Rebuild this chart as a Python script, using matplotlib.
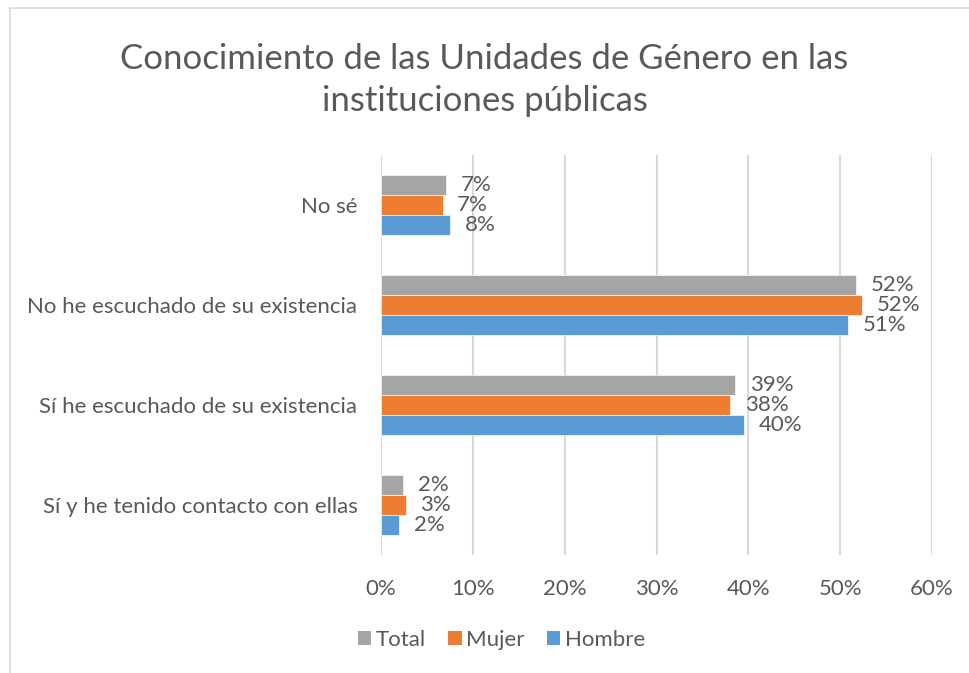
import numpy as np
import matplotlib.pyplot as plt
from matplotlib.lines import Line2D
from matplotlib.patches import Patch

categories = ['No sé', 'No he escuchado de su existencia',
              'Sí he escuchado de su existencia', 'Sí y he tenido contacto con ellas']
total = [7.1, 51.7, 38.6, 2.4]
mujer = [6.7, 52.4, 38.0, 2.7]
hombre = [7.5, 50.9, 39.5, 2.0]
series = ['Total', 'Mujer', 'Hombre']
colors = ['#a5a5a5', '#ed7d31', '#5b9bd5']
xticks = [0, 10, 20, 30, 40, 50, 60]

txt = '#595959'
plt.rcParams['font.family'] = ['Lato', 'DejaVu Sans']

fig = plt.figure(figsize=(9.69, 6.73), dpi=100)
fig.patch.set_facecolor('white')
ax = fig.add_axes([381 / 969, 1 - 555 / 673, (932 - 381) / 969, 400 / 673])

y = np.arange(len(categories))
h = 0.2
for i, (vals, c) in enumerate(zip([total, mujer, hombre], colors)):
    pos = y + (i - 1) * h
    ax.barh(pos, vals, height=h, color=c, edgecolor='#f2f2f2', linewidth=0.6, zorder=3)
    for p, v in zip(pos, vals):
        ax.text(v + 1.6, p, f'{int(v + 0.5)}%', va='center', ha='left',
                fontsize=16, color=txt)

ax.set_xlim(0, 60)
ax.set_ylim(len(categories) - 0.5, -0.5)
ax.set_xticks(xticks)
ax.set_xticklabels([f'{t}%' for t in xticks], fontsize=16, color=txt)
ax.set_yticks(y)
ax.set_yticklabels(categories, fontsize=16, color=txt)
ax.tick_params(length=0)
ax.tick_params(axis='x', pad=17)
ax.tick_params(axis='y', pad=17)
ax.grid(axis='x', color='#d9d9d9', linewidth=1.5, zorder=0)
for s in ax.spines.values():
    s.set_visible(False)

fig.suptitle('Conocimiento de las Unidades de Género en las\ninstituciones públicas',
             x=0.5, y=1 - 43 / 673, fontsize=25, color=txt, va='top',
             linespacing=1.4)

handles = [Patch(facecolor=c, edgecolor='none') for c in colors]
fig.legend(handles, series, loc='center', bbox_to_anchor=(0.5175, 1 - 640 / 673),
           ncol=3, frameon=False, fontsize=16, handlelength=0.6, handleheight=0.6,
           handletextpad=0.2, columnspacing=1.0, labelcolor=txt)

# chart border (top and left visible)
fig.add_artist(Line2D([9.5 / 969, 9.5 / 969], [0, 1 - 8 / 673], color='#d9d9d9', lw=1.2))
fig.add_artist(Line2D([9.5 / 969, 1], [1 - 8 / 673, 1 - 8 / 673], color='#d9d9d9', lw=1.2))

fig.savefig('out.png', dpi=100)
